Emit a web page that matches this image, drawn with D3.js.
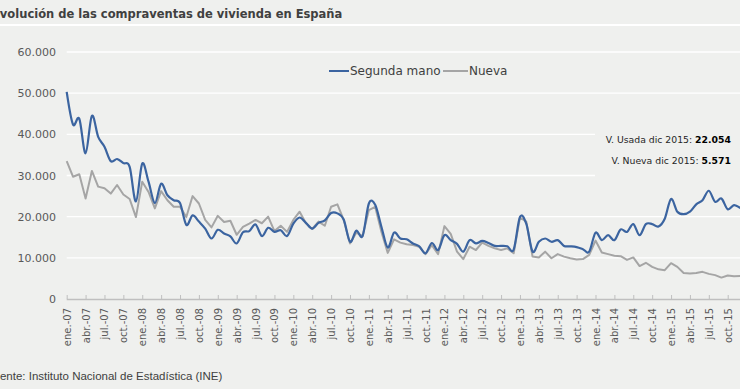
<!DOCTYPE html>
<html>
<head>
<meta charset="utf-8">
<script src="https://cdn.jsdelivr.net/npm/d3@7"></script>
<style>
  body { margin: 0; background: #eff0ee; }
  svg { display: block; }
</style>
</head>
<body>
<div id="chart"></div>
<script>
// categories
var monthNames = ['ene.', 'feb.', 'mar.', 'abr.', 'may.', 'jun.', 'jul.', 'ago.', 'sep.', 'oct.', 'nov.', 'dic.']
var years = ['07', '08', '09', '10', '11', '12', '13', '14', '15']

// compraventas mensuales, vivienda usada (segunda mano)
var segundaMano = [
    50300, 42400, 43800, 35400, 44500, 39400, 37000, 33500, 34000, 33000, 32100, 23700,
    32900, 28500, 23300, 28000, 25200, 24000, 23300, 18000, 20300, 18800, 17100, 14700,
    16800, 15900, 15200, 13500, 16200, 16500, 18100, 15300, 17300, 16300, 16700, 15300,
    18300, 19800, 18500, 17100, 18500, 19100, 20900, 20800, 19300, 13900, 16600, 15300,
    23200, 22900, 17500, 12500, 16100, 14700, 14500, 13500, 12800, 11100, 13600, 11900,
    15500, 14300, 13400, 11500, 14300, 13500, 14100, 13600, 12900, 12900, 12800, 12000,
    19900, 18300, 11500, 13900, 14700, 13900, 14300, 12900, 12800, 12600, 12100, 11500,
    16100, 14300, 15500, 14300, 16900, 16300, 18200, 15500, 18200, 18200, 17600, 19500,
    24300, 21200, 20600, 21200, 23000, 24000, 26300, 23600, 24400, 21800, 22800, 22054
]

// compraventas mensuales, vivienda nueva
var nueva = [
    33500, 29700, 30300, 24400, 31100, 27300, 26900, 25600, 27700, 25400, 24300, 19900,
    28500, 26000, 22000, 26200, 24000, 22400, 22400, 19900, 25000, 23200, 19200, 17400,
    20200, 18700, 19000, 15600, 17500, 18300, 19200, 18400, 20000, 16500, 17800, 16300,
    19200, 21200, 18400, 17000, 18800, 17800, 22400, 23000, 19200, 13500, 16100, 15300,
    21600, 22400, 16300, 11200, 14500, 13700, 13300, 13100, 12700, 10900, 13100, 10900,
    17700, 15800, 11500, 9700, 12700, 11900, 13700, 12900, 12300, 11900, 12300, 11100,
    19800, 18800, 10300, 10100, 11500, 9900, 10900, 10300, 9900, 9600, 9700, 10700,
    14200, 11300, 10900, 10500, 10400, 9500, 10100, 8000, 8800, 7800, 7200, 7000,
    8700, 7800, 6300, 6200, 6300, 6600, 6100, 5800, 5200, 5700, 5500, 5571
]

var yTicks = [0, 10000, 20000, 30000, 40000, 50000, 60000]
var seriesNames = ['Segunda mano', 'Nueva']
var notes = [
    { label: 'V. Usada dic 2015: ', value: '22.054' },
    { label: 'V. Nueva dic 2015: ', value: '5.571' }
]

var months = []
years.forEach(function (y) {
    monthNames.forEach(function (m) { months.push(m + '-' + y) })
})

var es = d3.formatLocale({ decimal: ',', thousands: '.', grouping: [3], currency: ['', ' €'] })
var fmt = es.format(',.0f')

var width = 740, height = 389
var margin = { left: 66.7, right: 740.3, top: 52, bottom: 299 }

var svg = d3.select('#chart').append('svg')
    .attr('width', width)
    .attr('height', height)

svg.append('rect')
    .attr('width', width).attr('height', height)
    .attr('fill', '#eff0ee')

// title (cut at the left edge like the original)
svg.append('text')
    .attr('x', -8)
    .attr('y', 17.5)
    .attr('font-family', 'DejaVu Sans')
    .attr('font-weight', 'bold')
    .attr('font-size', 11.5)
    .attr('fill', '#404040')
    .text('Evolución de las compraventas de vivienda en España')

svg.append('line')
    .attr('x1', 0).attr('x2', width)
    .attr('y1', 25).attr('y2', 25)
    .attr('stroke', '#ffffff')
    .attr('stroke-width', 2)

var x = d3.scalePoint()
    .domain(months)
    .range([margin.left, margin.right])

var y = d3.scaleLinear()
    .domain([0, 60000])
    .range([margin.bottom, margin.top])

// gridlines
svg.append('g')
    .selectAll('line')
    .data(yTicks.filter(function (d) { return d > 0 }))
    .enter()
    .append('line')
    .attr('x1', margin.left)
    .attr('x2', width)
    .attr('y1', function (d) { return y(d) })
    .attr('y2', function (d) { return y(d) })
    .attr('stroke', '#ffffff')
    .attr('stroke-width', 1.3)

// y labels
var yAxis = d3.axisLeft(y).tickValues(yTicks).tickSize(0).tickPadding(0).tickFormat(fmt)
var gy = svg.append('g')
    .attr('transform', 'translate(56,0)')
    .call(yAxis)
gy.select('.domain').remove()
gy.selectAll('text')
    .attr('font-family', 'DejaVu Sans')
    .attr('font-size', 11)
    .attr('fill', '#595959')

// x axis, ticks pointing up
var xAxis = d3.axisBottom(x)
    .tickValues(months.filter(function (d, i) { return i % 3 == 0 }))
    .tickSizeInner(-4)
    .tickSizeOuter(0)
var gx = svg.append('g')
    .attr('transform', 'translate(0,' + margin.bottom + ')')
    .call(xAxis)
gx.select('.domain')
    .attr('stroke', '#bfbfbf')
    .attr('stroke-width', 1.3)
    .attr('d', 'M' + margin.left + ',0.5H' + width)
gx.selectAll('.tick line').attr('stroke', '#bfbfbf')
gx.selectAll('text')
    .attr('transform', 'rotate(-90)')
    .attr('x', -9)
    .attr('y', 0)
    .attr('dy', '0.35em')
    .style('text-anchor', 'end')
    .attr('font-family', 'DejaVu Sans')
    .attr('font-size', 10)
    .attr('fill', '#595959')

// box behind the note, hides gridlines
svg.append('rect')
    .attr('x', 595).attr('y', 102)
    .attr('width', width - 595).attr('height', 90)
    .attr('fill', '#eff0ee')

var note = svg.append('g')
notes.forEach(function (n, i) {
    var t = note.append('text')
        .attr('x', 731)
        .attr('y', 142.5 + i * 21.5)
        .attr('text-anchor', 'end')
        .attr('font-family', 'DejaVu Sans')
        .attr('font-size', 9.3)
        .attr('fill', '#262626')
    t.append('tspan').text(n.label)
    t.append('tspan').attr('font-weight', 'bold').attr('fill', '#000').text(n.value)
})

// series
var lineSmooth = d3.line()
    .x(function (d, i) { return x(months[i]) })
    .y(function (d) { return y(d) })
    .curve(d3.curveCardinal)

var lineStraight = d3.line()
    .x(function (d, i) { return x(months[i]) })
    .y(function (d) { return y(d) })

svg.append('path')
    .datum(nueva)
    .attr('fill', 'none')
    .attr('stroke', '#a5a5a5')
    .attr('stroke-width', 2)
    .attr('stroke-linejoin', 'round')
    .attr('d', lineStraight)

svg.append('path')
    .datum(segundaMano)
    .attr('fill', 'none')
    .attr('stroke', '#3b64a0')
    .attr('stroke-width', 2.2)
    .attr('stroke-linejoin', 'round')
    .attr('d', lineSmooth)

// legend
var legend = svg.append('g').attr('transform', 'translate(329,71)')
var legColors = ['#3b64a0', '#a5a5a5']
var legX = [0, 114]
var legLen = [20, 25]
seriesNames.forEach(function (name, i) {
    legend.append('line')
        .attr('x1', legX[i]).attr('x2', legX[i] + legLen[i])
        .attr('y1', 0).attr('y2', 0)
        .attr('stroke', legColors[i])
        .attr('stroke-width', 2)
    legend.append('text')
        .attr('x', legX[i] + legLen[i] + 1)
        .attr('y', 0)
        .attr('dy', '0.35em')
        .attr('font-family', 'DejaVu Sans')
        .attr('font-size', 12)
        .attr('fill', '#404040')
        .text(name)
})

// source
svg.append('text')
    .attr('x', -13.5)
    .attr('y', 380)
    .attr('font-family', 'Liberation Sans')
    .attr('font-size', 11.5)
    .attr('fill', '#404040')
    .text('Fuente: Instituto Nacional de Estadística (INE)')
</script>
</body>
</html>
